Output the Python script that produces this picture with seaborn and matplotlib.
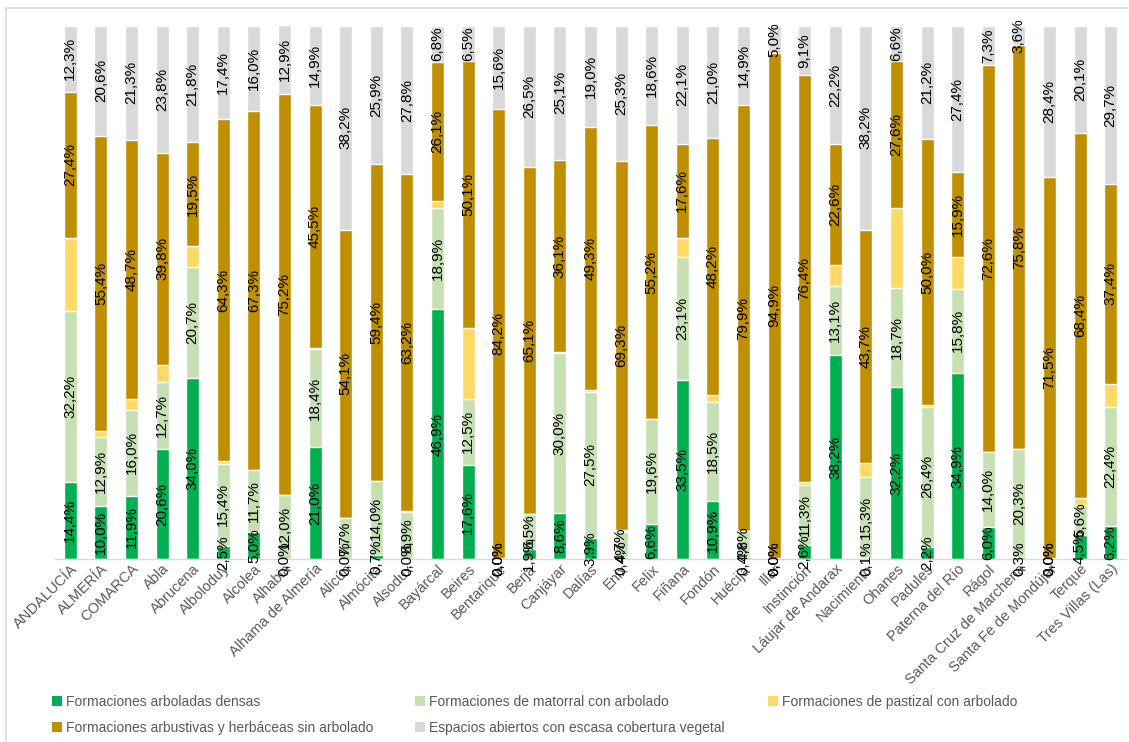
import numpy as np
import pandas as pd
import matplotlib
matplotlib.use("Agg")
import matplotlib.pyplot as plt
from matplotlib.patches import Patch, Rectangle
import seaborn as sns

# ── Data (percent of surface per municipality) ────────────────────────────────
municipios = [
    "ANDALUCÍA", "ALMERÍA", "COMARCA", "Abla", "Abrucena", "Alboloduy",
    "Alcolea", "Alhabia", "Alhama de Almería", "Alicún", "Almócita",
    "Alsodux", "Bayárcal", "Beires", "Bentarique", "Berja", "Canjáyar",
    "Dalías", "Enix", "Felix", "Fiñana", "Fondón", "Huécija", "Illar",
    "Instinción", "Láujar de Andarax", "Nacimiento", "Ohanes", "Padules",
    "Paterna del Río", "Rágol", "Santa Cruz de Marchena",
    "Santa Fe de Mondújar", "Terque", "Tres Villas (Las)",
]
arboladas_densas = [
    14.4, 10.0, 11.9, 20.6, 34.0, 2.5, 5.0, 0.0, 21.0, 0.0, 0.7, 0.0, 46.9,
    17.6, 0.0, 1.9, 8.6, 3.9, 0.4, 6.6, 33.5, 10.9, 0.4, 0.0, 2.6, 38.2,
    0.1, 32.2, 2.2, 34.9, 6.0, 0.3, 0.0, 4.5, 6.2,
]
matorral_arbolado = [
    32.2, 12.9, 16.0, 12.7, 20.7, 15.4, 11.7, 12.0, 18.4, 7.7, 14.0, 8.9,
    18.9, 12.5, 0.0, 6.5, 30.0, 27.5, 4.7, 19.6, 23.1, 18.5, 4.8, 0.0, 11.3,
    13.1, 15.3, 18.7, 26.4, 15.8, 14.0, 20.3, 0.0, 5.6, 22.4,
]
pastizal_arbolado = [
    13.7, 1.1, 2.1, 3.1, 4.0, 0.4, 0.0, 0.0, 0.2, 0.0, 0.0, 0.1, 1.3, 13.3,
    0.2, 0.0, 0.2, 0.3, 0.3, 0.0, 3.7, 1.4, 0.0, 0.1, 0.6, 3.9, 2.7, 14.9,
    0.2, 6.0, 0.1, 0.0, 0.1, 1.4, 4.3,
]
arbustivas_herbaceas = [
    27.4, 55.4, 48.7, 39.8, 19.5, 64.3, 67.3, 75.2, 45.5, 54.1, 59.4, 63.2,
    26.1, 50.1, 84.2, 65.1, 36.1, 49.3, 69.3, 55.2, 17.6, 48.2, 79.9, 94.9,
    76.4, 22.6, 43.7, 27.6, 50.0, 15.9, 72.6, 75.8, 71.5, 68.4, 37.4,
]
espacios_abiertos = [
    12.3, 20.6, 21.3, 23.8, 21.8, 17.4, 16.0, 12.9, 14.9, 38.2, 25.9, 27.8,
    6.8, 6.5, 15.6, 26.5, 25.1, 19.0, 25.3, 18.6, 22.1, 21.0, 14.9, 5.0,
    9.1, 22.2, 38.2, 6.6, 21.2, 27.4, 7.3, 3.6, 28.4, 20.1, 29.7,
]

series = [
    ("Formaciones arboladas densas", arboladas_densas, "#00B050", True),
    ("Formaciones de matorral con arbolado", matorral_arbolado, "#C6E0B4", True),
    ("Formaciones de pastizal con arbolado", pastizal_arbolado, "#FFD966", False),
    ("Formaciones arbustivas y herbáceas sin arbolado", arbustivas_herbaceas, "#BF8F00", True),
    ("Espacios abiertos con escasa cobertura vegetal", espacios_abiertos, "#D9D9D9", True),
]

# ── Style ─────────────────────────────────────────────────────────────────────
sns.set_theme(style="white")
plt.rcParams["font.family"] = ["Liberation Sans Narrow", "Liberation Sans", "DejaVu Sans"]
_TEXT_GREY = "#595959"

fig = plt.figure(figsize=(11.29, 7.42), dpi=100)
ax = fig.add_axes([55 / 1129, 1 - 559 / 742, (1126 - 55) / 1129, (559 - 26) / 742])

# stacked bars: draw cumulative totals from the top layer down
df = pd.DataFrame({"municipio": municipios})
cum = np.zeros(len(municipios))
cums = []
for name, vals, color, _ in series:
    bottom = cum.copy()
    cum = cum + np.array(vals)
    cums.append((bottom, cum.copy()))

for (name, vals, color, _), (bottom, top) in reversed(list(zip(series, cums))):
    df["total"] = top
    sns.barplot(data=df, x="municipio", y="total", order=municipios,
                color=color, width=0.42, saturation=1, ax=ax)

# data labels (pastizal not labelled in the original)
for (name, vals, color, labelled), (bottom, top) in zip(series, cums):
    if not labelled:
        continue
    for i, v in enumerate(vals):
        ax.text(i, (bottom[i] + top[i]) / 2, f"{v:.1f}%".replace(".", ","),
                rotation=90, ha="center", va="center",
                fontsize=11, color="black")

ax.set_xlim(-0.5, len(municipios) - 0.5)
ax.set_ylim(0, 100)
ax.set_xlabel("")
ax.set_ylabel("")
ax.set_yticks([])
ax.tick_params(axis="x", length=0, pad=2, labelsize=10.5, labelcolor=_TEXT_GREY)
plt.setp(ax.get_xticklabels(), rotation=45, ha="right", rotation_mode="anchor")
for side in ["top", "left", "right"]:
    ax.spines[side].set_visible(False)
ax.spines["bottom"].set_color("#D9D9D9")
ax.spines["bottom"].set_linewidth(1.0)

# legend laid out row-wise in three columns
handles = [Patch(facecolor=c, edgecolor="none", label=n) for n, _, c, _ in series]
legend_cols = [(52, [0, 3]), (415, [1, 4]), (768, [2])]
for x0, idx in legend_cols:
    leg = fig.legend(handles=[handles[i] for i in idx], loc="upper left",
                     bbox_to_anchor=(x0 / 1129, 1 - 695 / 742), frameon=False,
                     fontsize=10, handlelength=0.7, handleheight=0.7,
                     handletextpad=0.3, labelspacing=0.85, borderpad=0,
                     borderaxespad=0, labelcolor=_TEXT_GREY)

# chart frame
fig.patches.append(Rectangle((6 / 1129, -0.01), 1.02, 1 - 8 / 742 + 0.01,
                             transform=fig.transFigure, fill=False,
                             edgecolor="#D9D9D9", linewidth=1.2))

fig.savefig("out.png", dpi=100)
plt.close(fig)
